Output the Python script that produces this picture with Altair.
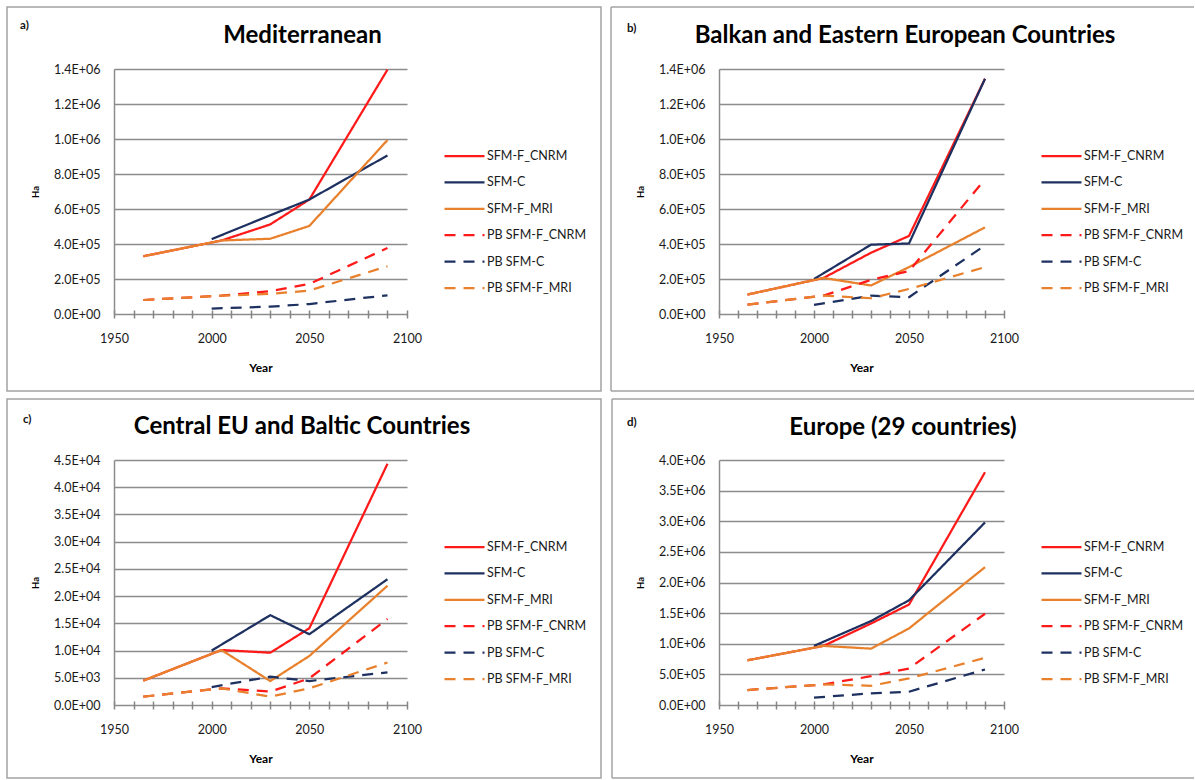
import altair as alt
import pandas as pd

# ---- series definitions -------------------------------------------------
SERIES = ["SFM-F_CNRM", "SFM-C", "SFM-F_MRI", "PB SFM-F_CNRM", "PB SFM-C", "PB SFM-F_MRI"]
LINE_COLORS = ["#ff1a1a", "#1d3060", "#e8802c", "#ff1a1a", "#1d3060", "#e8802c"]
LINE_DASHES = [[1, 0], [1, 0], [1, 0], [11, 8], [11, 8], [11, 8]]

# years at which each scenario is reported
YEARS_F = [1965, 2005, 2030, 2050, 2090]
YEARS_C = [2000, 2030, 2050, 2090]

# decade ticks on the time axis; only every fifth one is labelled
X_TICK_YEARS = [1950, 1960, 1970, 1980, 1990, 2000, 2010, 2020,
                2030, 2040, 2050, 2060, 2070, 2080, 2090, 2100]

# ---- area (ha) per region -------------------------------------------------
MEDITERRANEAN = {
    "SFM-F_CNRM": [330000, 420000, 512000, 654000, 1396000],
    "SFM-C": [428000, 564000, 654000, 906000],
    "SFM-F_MRI": [330000, 420000, 430000, 503000, 994000],
    "PB SFM-F_CNRM": [80000, 105000, 130000, 172000, 377000],
    "PB SFM-C": [31000, 42000, 57000, 107000],
    "PB SFM-F_MRI": [80000, 105000, 115000, 134000, 273000],
}
BALKAN_EAST = {
    "SFM-F_CNRM": [111000, 206000, 350000, 446000, 1344000],
    "SFM-C": [200000, 396000, 403000, 1344000],
    "SFM-F_MRI": [111000, 206000, 163000, 268000, 495000],
    "PB SFM-F_CNRM": [54000, 105000, 195000, 245000, 770000],
    "PB SFM-C": [52000, 105000, 96000, 392000],
    "PB SFM-F_MRI": [54000, 105000, 90000, 143000, 268000],
}
CENTRAL_BALTIC = {
    "SFM-F_CNRM": [4470, 10100, 9600, 14100, 44300],
    "SFM-C": [10000, 16500, 13000, 23100],
    "SFM-F_MRI": [4470, 10100, 4400, 9000, 21900],
    "PB SFM-F_CNRM": [1530, 3060, 2450, 4900, 15800],
    "PB SFM-C": [3300, 5200, 4400, 6000],
    "PB SFM-F_MRI": [1530, 3060, 1530, 3060, 7800],
}
EUROPE = {
    "SFM-F_CNRM": [730000, 965000, 1330000, 1640000, 3800000],
    "SFM-C": [965000, 1370000, 1710000, 2980000],
    "SFM-F_MRI": [730000, 965000, 920000, 1250000, 2250000],
    "PB SFM-F_CNRM": [244000, 336000, 470000, 596000, 1490000],
    "PB SFM-C": [120000, 190000, 217000, 580000],
    "PB SFM-F_MRI": [244000, 336000, 314000, 434000, 770000],
}

Y_TICKS_14 = [0, 200000, 400000, 600000, 800000, 1000000, 1200000, 1400000]
Y_TICKS_45 = [0, 5000, 10000, 15000, 20000, 25000, 30000, 35000, 40000, 45000]
Y_TICKS_40 = [0, 500000, 1000000, 1500000, 2000000, 2500000, 3000000, 3500000, 4000000]

# ---- styling ----------------------------------------------------------------
FONT = "Lato"
GRAY = "#8c8c8c"
TICK = "#858585"
FRAME = "#a3a3a3"
ONE = pd.DataFrame({"k": [0]})

# scientific labels like 1.4E+06
EXP = "floor(log(datum.value) / LN10 + 1e-9)"
SCI = (f"datum.value == 0 ? '0.0E+00' : format(datum.value / pow(10, {EXP}), '.1f')"
       f" + 'E+' + ({EXP} < 10 ? '0' : '') + {EXP}")
HALF_CENTURY = "datum.value % 50 == 0 ? datum.label : ''"


def long_rows(values):
    rows = []
    for s in SERIES:
        yrs = YEARS_C if s.endswith("SFM-C") else YEARS_F
        for yr, v in zip(yrs, values[s]):
            rows.append({"year": yr, "ha": v, "series": s})
    return pd.DataFrame(rows)


def rule(x1, y1, x2, y2):
    enc = {"x": alt.value(x1), "y": alt.value(y1)}
    if x2 != x1:
        enc["x2"] = alt.value(x2)
    if y2 != y1:
        enc["y2"] = alt.value(y2)
    return alt.Chart(ONE).mark_rule(color=FRAME, strokeWidth=1.5).encode(**enc)


def panel(letter, title, values, ymax, yticks, lay, canvas=False):
    w, h = lay["w"], lay["h"]
    layers = []

    if canvas:
        layers.append(
            alt.Chart(ONE).mark_rect(fillOpacity=0, strokeWidth=0).encode(
                x=alt.value(-114), x2=alt.value(1081), y=alt.value(-69), y2=alt.value(711)
            )
        )

    fx1, fy1, fx2, fy2 = lay["frame"]
    if lay["closed"]:
        layers.append(
            alt.Chart(ONE).mark_rect(fillOpacity=0, stroke=FRAME, strokeWidth=1.5).encode(
                x=alt.value(fx1), x2=alt.value(fx2), y=alt.value(fy1), y2=alt.value(fy2)
            )
        )
    else:
        layers += [rule(fx1, fy1, fx2, fy1), rule(fx1, fy1, fx1, fy2), rule(fx1, fy2, fx2, fy2)]

    # the axis is lifted 4px so that its 8px ticks cross the zero gridline
    x_enc = alt.X(
        "year:Q",
        scale=alt.Scale(domain=[1950, 2100], nice=False, zero=False),
        axis=alt.Axis(values=X_TICK_YEARS, format="d", labelExpr=HALF_CENTURY,
                      domain=False, ticks=True, tickSize=8, tickWidth=1.5, tickColor=TICK,
                      offset=-4, grid=False, labelFlush=False, labelOverlap=False,
                      labelPadding=20, labelBaseline="middle",
                      title="Year", titleFontSize=12, titleX=w / 2, titleY=57,
                      titleBaseline="middle", titleAlign="center"),
    )
    leg = alt.Legend(title=None, orient="none", legendX=w + 36, legendY=77,
                     symbolType="stroke", symbolSize=1600, symbolStrokeWidth=2.25,
                     clipHeight=20, rowPadding=6.4, labelOffset=1, padding=0,
                     labelFont=FONT, labelFontSize=12.5, labelColor="#1a1a1a")

    lines = alt.Chart(long_rows(values)).mark_line(
        strokeWidth=2.25, strokeJoin="round", strokeCap="butt"
    ).encode(
        x=x_enc,
        y=alt.Y("ha:Q", scale=alt.Scale(domain=[0, ymax], nice=False),
                axis=alt.Axis(values=yticks, labelExpr=SCI, ticks=False, grid=True,
                              labelFlush=False, labelPadding=14, title="Ha", titleFontSize=9.5,
                              titleX=-79, titleY=h / 2, titleBaseline="middle",
                              titleAlign="center", titleAngle=270)),
        color=alt.Color("series:N", scale=alt.Scale(domain=SERIES, range=LINE_COLORS), legend=leg),
        strokeDash=alt.StrokeDash("series:N", scale=alt.Scale(domain=SERIES, range=LINE_DASHES),
                                  legend=leg),
    )
    layers.append(lines)

    lx, ly = lay["letter"]
    layers.append(
        alt.Chart(ONE).mark_text(text=letter, font=FONT, fontSize=11.5, fontWeight="bold",
                                 align="left", baseline="middle", color="#111").encode(
            x=alt.value(lx), y=alt.value(ly))
    )
    tx, ty = lay["title"]
    layers.append(
        alt.Chart(ONE).mark_text(text=title, font=FONT, fontSize=24, fontWeight="bold",
                                 align="center", baseline="alphabetic", color="#000").encode(
            x=alt.value(tx), y=alt.value(ty))
    )
    return alt.layer(*layers).properties(width=w, height=h)


LAYOUT = {
    "a": dict(w=293, h=245, frame=(-107, -62, 487, 322), closed=True, letter=(-94, -43), title=(188.5, -26)),
    "b": dict(w=285, h=245, frame=(-108, -62, 475, 322), closed=False, letter=(-92, -40), title=(186, -26)),
    "c": dict(w=293, h=245, frame=(-107, -61, 487, 318), closed=True, letter=(-91, -40), title=(188, -26)),
    "d": dict(w=285, h=245, frame=(-107, -61, 475, 318), closed=False, letter=(-92, -37), title=(184, -25)),
}

pa = panel("a)", "Mediterranean", MEDITERRANEAN, 1400000, Y_TICKS_14, LAYOUT["a"], canvas=True)
pb = panel("b)", "Balkan and Eastern European Countries", BALKAN_EAST, 1400000, Y_TICKS_14, LAYOUT["b"])
pc = panel("c)", "Central EU and Baltic Countries", CENTRAL_BALTIC, 45000, Y_TICKS_45, LAYOUT["c"])
pd_ = panel("d)", "Europe (29 countries)", EUROPE, 4000000, Y_TICKS_40, LAYOUT["d"])

chart = (
    alt.concat(pa, pb, pc, pd_, columns=2, spacing={"row": 146, "column": 312}, bounds="flush")
    .resolve_legend(color="independent", strokeDash="independent")
    .properties(padding=0, background="white")
    .configure_view(stroke=None)
    .configure_axis(domainColor=GRAY, domainWidth=1.5, gridColor=GRAY, gridWidth=1.5,
                    labelFont=FONT, labelFontSize=12.5, labelColor="#1a1a1a",
                    titleFont=FONT, titleFontWeight="bold", titleColor="#000")
)

chart.save("out.html", embed_options={"renderer": "svg", "actions": False})
